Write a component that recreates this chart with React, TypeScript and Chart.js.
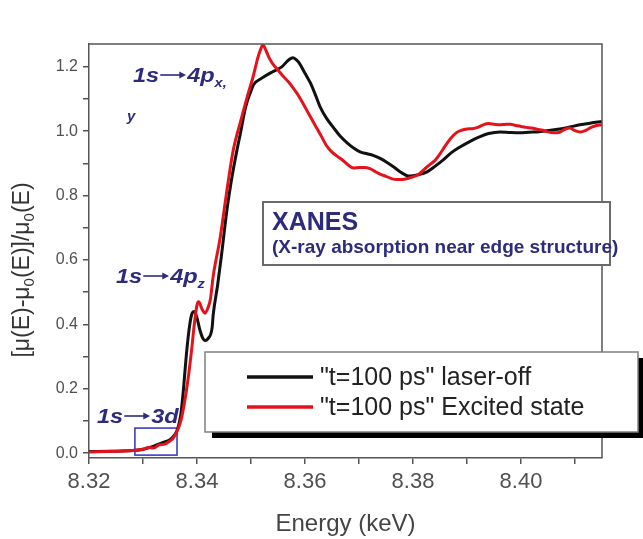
import React, { useEffect, useRef } from "react";
import { Chart, registerables } from "chart.js";

Chart.register(...registerables);

const offEnergy = [
  8.320, 8.324, 8.328, 8.330, 8.332, 8.3335, 8.335, 8.336, 8.3365, 8.337,
  8.3375, 8.338, 8.3385, 8.339, 8.3395, 8.340, 8.3405, 8.341, 8.3415, 8.342,
  8.3428, 8.343, 8.3438, 8.3445, 8.3455, 8.3465, 8.3475, 8.348, 8.349, 8.350,
  8.3505, 8.352, 8.354, 8.3557, 8.357, 8.3578, 8.3585, 8.359, 8.360, 8.361,
  8.362, 8.3628, 8.364, 8.3652, 8.3665, 8.3678, 8.369, 8.3702, 8.3715, 8.3726,
  8.374, 8.3752, 8.3765, 8.3776, 8.3785, 8.3791, 8.380, 8.381, 8.3826, 8.384,
  8.3856, 8.387, 8.3887, 8.3905, 8.3924, 8.394, 8.3961, 8.398, 8.3998, 8.4015,
  8.403, 8.405, 8.4072, 8.409, 8.4109, 8.4128, 8.415,
];
const offValue = [
  0.005, 0.006, 0.008, 0.012, 0.022, 0.032, 0.042, 0.06, 0.08, 0.12,
  0.2, 0.3, 0.38, 0.43, 0.44, 0.42, 0.385, 0.36, 0.35, 0.355,
  0.39, 0.43, 0.52, 0.61, 0.75, 0.86, 0.95, 0.99, 1.075, 1.125,
  1.145, 1.165, 1.185, 1.2, 1.222, 1.228, 1.22, 1.21, 1.18, 1.15,
  1.11, 1.076, 1.04, 1.013, 0.985, 0.964, 0.948, 0.936, 0.93, 0.925,
  0.915, 0.903, 0.888, 0.874, 0.865, 0.861, 0.862, 0.865, 0.874, 0.89,
  0.911, 0.932, 0.951, 0.968, 0.983, 0.993, 0.998, 0.996, 0.995, 0.997,
  0.998, 1.002, 1.007, 1.013, 1.02, 1.025, 1.03,
];

const excEnergy = [
  8.320, 8.325, 8.328, 8.330, 8.331, 8.332, 8.333, 8.334, 8.335, 8.3355,
  8.336, 8.3365, 8.337, 8.3375, 8.338, 8.3385, 8.339, 8.3395, 8.340, 8.3403,
  8.341, 8.3415, 8.342, 8.3425, 8.343, 8.3443, 8.3454, 8.3467, 8.348, 8.3493,
  8.3504, 8.3513, 8.3518, 8.3522, 8.3528, 8.3533, 8.354, 8.355, 8.356, 8.357,
  8.358, 8.359, 8.360, 8.361, 8.362, 8.363, 8.364, 8.365, 8.366, 8.367,
  8.368, 8.369, 8.370, 8.371, 8.372, 8.373, 8.374, 8.375, 8.376, 8.377,
  8.378, 8.379, 8.380, 8.381, 8.382, 8.383, 8.384, 8.385, 8.386, 8.387,
  8.388, 8.389, 8.390, 8.391, 8.392, 8.393, 8.394, 8.395, 8.396, 8.397,
  8.398, 8.399, 8.400, 8.401, 8.402, 8.403, 8.404, 8.405, 8.406, 8.407,
  8.408, 8.409, 8.410, 8.411, 8.412, 8.413, 8.414, 8.415,
];
const excValue = [
  0.004, 0.006, 0.008, 0.012, 0.018, 0.016, 0.026, 0.028, 0.038, 0.045,
  0.058, 0.075, 0.1, 0.14, 0.19, 0.25, 0.32, 0.4, 0.46, 0.47,
  0.445, 0.435, 0.45, 0.48, 0.55, 0.67, 0.8, 0.94, 1.026, 1.107,
  1.17, 1.23, 1.255, 1.268, 1.25, 1.23, 1.21, 1.19, 1.17, 1.152,
  1.13, 1.105, 1.075, 1.045, 1.015, 0.985, 0.955, 0.935, 0.922, 0.91,
  0.895, 0.886, 0.887, 0.887, 0.884, 0.875, 0.866, 0.86, 0.853, 0.85,
  0.85, 0.853, 0.858, 0.866, 0.88, 0.895, 0.908, 0.93, 0.955, 0.978,
  0.995, 1.003, 1.007, 1.008, 1.012, 1.02, 1.024, 1.022, 1.02, 1.021,
  1.022, 1.018, 1.015, 1.012, 1.01, 1.006, 1.003, 0.998, 0.995, 0.996,
  1.005, 1.01, 1.002, 0.998, 1.003, 1.012, 1.018, 1.02,
];

const seriesLabels = ['"t=100 ps" laser-off', '"t=100 ps" Excited state'];
const seriesColors = ["#111111", "#e5121b"];

const xTickValues = [8.32, 8.33, 8.34, 8.35, 8.36, 8.37, 8.38, 8.39, 8.40, 8.41];
const xLabelValues = [8.32, 8.34, 8.36, 8.38, 8.40];
const yTickValues = [0, 0.1, 0.2, 0.3, 0.4, 0.5, 0.6, 0.7, 0.8, 0.9, 1.0, 1.1, 1.2];
const yLabelValues = [0, 0.2, 0.4, 0.6, 0.8, 1.0, 1.2];

const xTitle = "Energy (keV)";
const boxTitle = "XANES";
const boxSubtitle = "(X-ray absorption near edge structure)";

const FONT = "'Liberation Sans', Arial, sans-serif";
const NAVY = "#2c2b7e";
const AXIS = "#555555";

// draws "<left> → <right><sub>" with a long drawn arrow, glyphs slightly widened
function drawTransition(
  ctx: CanvasRenderingContext2D,
  x: number,
  y: number,
  left: string,
  right: string,
  sub: string
) {
  const sx = 1.12;
  ctx.save();
  ctx.translate(x, y);
  ctx.scale(sx, 1);
  ctx.fillStyle = NAVY;
  ctx.strokeStyle = NAVY;
  ctx.textBaseline = "alphabetic";
  ctx.textAlign = "left";
  ctx.font = `italic bold 21px ${FONT}`;
  ctx.fillText(left, 0, 0);
  const wl = ctx.measureText(left).width;
  const ax0 = wl + 1;
  const ax1 = ax0 + 23;
  const ay = -7;
  ctx.lineWidth = 1.6;
  ctx.beginPath();
  ctx.moveTo(ax0, ay);
  ctx.lineTo(ax1 - 5, ay);
  ctx.stroke();
  ctx.beginPath();
  ctx.moveTo(ax1, ay);
  ctx.lineTo(ax1 - 6, ay - 3.5);
  ctx.lineTo(ax1 - 6, ay + 3.5);
  ctx.closePath();
  ctx.fill();
  const rx = ax1 + 1;
  ctx.fillText(right, rx, 0);
  const wr = ctx.measureText(right).width;
  if (sub) {
    ctx.font = `italic bold 13px ${FONT}`;
    ctx.fillText(sub, rx + wr, 5);
  }
  ctx.restore();
}

const decorPlugin = {
  id: "decor",
  beforeDatasetsDraw(chart: any) {
    const ctx: CanvasRenderingContext2D = chart.ctx;
    const xs = chart.scales.x;
    const ys = chart.scales.y;
    drawTransition(ctx, 133, 82, "1s", "4p", "x,");
    ctx.save();
    ctx.font = `italic bold 15px ${FONT}`;
    ctx.fillStyle = NAVY;
    ctx.fillText("y", 127, 121);
    ctx.restore();
    drawTransition(ctx, 116, 283, "1s", "4p", "z");
    drawTransition(ctx, 97, 423, "1s", "3d", "");
    const x0 = xs.getPixelForValue(8.3285);
    const x1 = xs.getPixelForValue(8.3363);
    const y0 = ys.getPixelForValue(0.078);
    const y1 = ys.getPixelForValue(-0.006);
    ctx.save();
    ctx.strokeStyle = "#3b3bc4";
    ctx.lineWidth = 1.6;
    ctx.strokeRect(x0, y0, x1 - x0, y1 - y0);
    ctx.restore();
  },
  afterDraw(chart: any) {
    const ctx: CanvasRenderingContext2D = chart.ctx;
    const a = chart.chartArea;
    ctx.save();
    ctx.strokeStyle = AXIS;
    ctx.lineWidth = 1.5;
    ctx.beginPath();
    ctx.moveTo(a.left, a.top);
    ctx.lineTo(a.right, a.top);
    ctx.lineTo(a.right, a.bottom);
    ctx.stroke();

    ctx.fillStyle = "#ffffff";
    ctx.fillRect(263, 202, 347, 63);
    ctx.strokeStyle = "#6a6a6a";
    ctx.lineWidth = 2;
    ctx.strokeRect(263, 202, 347, 63);
    ctx.fillStyle = NAVY;
    ctx.textAlign = "left";
    ctx.textBaseline = "alphabetic";
    ctx.font = `bold 25px ${FONT}`;
    ctx.fillText(boxTitle, 272, 230);
    ctx.font = `bold 19px ${FONT}`;
    ctx.fillText(boxSubtitle, 272, 253);

    ctx.fillStyle = "#000000";
    ctx.fillRect(212, 358, 431, 80);
    ctx.fillStyle = "#ffffff";
    ctx.fillRect(205, 352, 433, 80);
    ctx.strokeStyle = "#808080";
    ctx.lineWidth = 1.5;
    ctx.strokeRect(205, 352, 433, 80);
    const rows = [377, 407];
    chart.data.datasets.forEach((ds: any, i: number) => {
      const yy = rows[i];
      ctx.strokeStyle = ds.borderColor;
      ctx.lineWidth = 3.5;
      ctx.beginPath();
      ctx.moveTo(247, yy);
      ctx.lineTo(313, yy);
      ctx.stroke();
      ctx.fillStyle = "#222222";
      ctx.font = `25px ${FONT}`;
      ctx.textBaseline = "middle";
      ctx.fillText(ds.label, 320, yy + 1);
    });

    const parts: [string, boolean][] = [
      ["[\u03bc(E)-\u03bc", false],
      ["0", true],
      ["(E)]/\u03bc", false],
      ["0", true],
      ["(E)", false],
    ];
    const mainFont = `23px ${FONT}`;
    const subFont = `15px ${FONT}`;
    let total = 0;
    const widths = parts.map(([t, s]) => {
      ctx.font = s ? subFont : mainFont;
      const w = ctx.measureText(t).width;
      total += w;
      return w;
    });
    ctx.translate(23, 270);
    ctx.rotate(-Math.PI / 2);
    ctx.fillStyle = "#333333";
    ctx.textBaseline = "middle";
    ctx.textAlign = "left";
    let cx = -total / 2;
    parts.forEach(([t, s], i) => {
      ctx.font = s ? subFont : mainFont;
      ctx.fillText(t, cx, s ? 7 : 0);
      cx += widths[i];
    });
    ctx.restore();
  },
};

function isLabel(v: number, list: number[]) {
  return list.some((l) => Math.abs(l - v) < 1e-6);
}

export default function App() {
  const ref = useRef<HTMLCanvasElement | null>(null);

  useEffect(() => {
    document.body.style.margin = "0";
    const canvas = ref.current;
    if (!canvas) return;
    const chart = new Chart(canvas, {
      type: "line",
      data: {
        datasets: [
          {
            label: seriesLabels[0],
            data: offEnergy.map((x, i) => ({ x, y: offValue[i] })),
            borderColor: seriesColors[0],
            borderWidth: 3,
            pointRadius: 0,
            cubicInterpolationMode: "monotone",
            fill: false,
            order: 2,
          },
          {
            label: seriesLabels[1],
            data: excEnergy.map((x, i) => ({ x, y: excValue[i] })),
            borderColor: seriesColors[1],
            borderWidth: 3,
            pointRadius: 0,
            cubicInterpolationMode: "monotone",
            fill: false,
            order: 1,
          },
        ],
      },
      options: {
        animation: false,
        responsive: false,
        maintainAspectRatio: false,
        layout: { padding: { left: 0, right: 41, top: 44, bottom: 0 } },
        plugins: {
          legend: { display: false },
          tooltip: { enabled: false },
          title: { display: false },
        },
        scales: {
          x: {
            type: "linear",
            min: 8.32,
            max: 8.415,
            afterFit: (s: any) => {
              s.height = 81;
            },
            afterBuildTicks: (s: any) => {
              s.ticks = xTickValues.map((v) => ({ value: v }));
            },
            border: { display: true, color: AXIS, width: 1.5 },
            grid: {
              display: true,
              drawOnChartArea: false,
              drawTicks: true,
              tickLength: 6,
              color: AXIS,
              lineWidth: 1.5,
            },
            ticks: {
              autoSkip: false,
              maxRotation: 0,
              padding: 5,
              color: "#505050",
              font: { family: FONT, size: 22 },
              callback: (v: any) => (isLabel(Number(v), xLabelValues) ? Number(v).toFixed(2) : ""),
            },
            title: {
              display: true,
              text: xTitle,
              color: "#444444",
              font: { family: FONT, size: 24 },
              padding: { top: 0, bottom: 0 },
            },
          },
          y: {
            type: "linear",
            min: -0.015,
            max: 1.271,
            afterFit: (s: any) => {
              s.width = 89;
            },
            afterBuildTicks: (s: any) => {
              s.ticks = yTickValues.map((v) => ({ value: v }));
            },
            border: { display: true, color: AXIS, width: 1.5 },
            grid: {
              display: true,
              drawOnChartArea: false,
              drawTicks: true,
              tickLength: 6,
              color: AXIS,
              lineWidth: 1.5,
            },
            ticks: {
              autoSkip: false,
              padding: 5,
              color: "#505050",
              font: { family: FONT, size: 16 },
              callback: (v: any) => (isLabel(Number(v), yLabelValues) ? Number(v).toFixed(1) : ""),
            },
          },
        },
      },
      plugins: [decorPlugin],
    } as any);
    return () => chart.destroy();
  }, []);

  return (
    <div style={{ position: "fixed", left: 0, top: 0, width: 643, height: 539, background: "#ffffff" }}>
      <canvas ref={ref} width={643} height={539} />
    </div>
  );
}
